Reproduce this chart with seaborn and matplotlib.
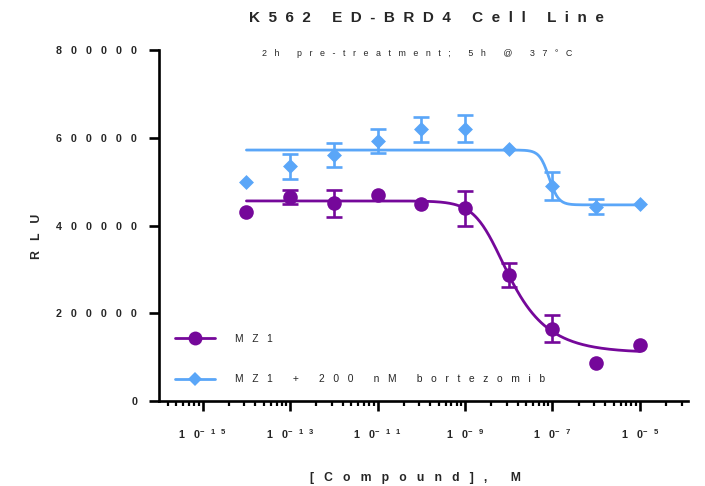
import numpy as np
import pandas as pd
import matplotlib
matplotlib.use("Agg")
import matplotlib.pyplot as plt
import seaborn as sns
from matplotlib.lines import Line2D

# ---------------- data ----------------
log_conc = [-14, -13, -12, -11, -10, -9, -8, -7, -6, -5]
mz1_rlu = [431000, 465000, 451000, 469000, 448000, 439000, 287000, 165000, 86000, 128000]
mz1_sem = [0, 17000, 31000, 0, 0, 40000, 28000, 30000, 0, 0]
bort_rlu = [500000, 535000, 560000, 593000, 619000, 621000, 574000, 490000, 443000, 449000]
bort_sem = [0, 28000, 27000, 27000, 28000, 30000, 0, 32000, 17000, 0]

series_names = ["MZ1", "MZ1 + 200 nM bortezomib"]
series_colors = ["#75089A", "#5AA6F8"]
series_markers = ["o", "D"]

# fitted dose-response parameters (top, bottom, logIC50, hill, asymmetry)
mz1_fit = [456000, 110000, -8.424, 1.5, 0.4]
bort_fit = [572000, 447000, -7.08, 4.0, 1.0]

y_ticks = [0, 200000, 400000, 600000, 800000]
x_tick_exps = [-15, -13, -11, -9, -7, -5]

title = "K562 ED-BRD4 Cell Line"
subtitle = "2h pre-treatment; 5h @ 37\u00b0C"
x_label = "[Compound], M"
y_label = "RLU"

# ---------------- helpers ----------------
def spaced(s, n=3):
    return (" " * n).join(s)

def dose_response(logx, p):
    top, bottom, logic50, hill, s = p
    return bottom + (top - bottom) / (1 + 10 ** ((logx - logic50) * hill)) ** s

# ---------------- style ----------------
sns.set_style("ticks")
plt.rcParams["font.family"] = ["Liberation Sans", "DejaVu Sans"]
plt.rcParams["mathtext.fontset"] = "custom"
plt.rcParams["mathtext.rm"] = "Liberation Sans"
plt.rcParams["mathtext.it"] = "Liberation Sans:italic"
plt.rcParams["mathtext.bf"] = "Liberation Sans:bold"

fig = plt.figure(figsize=(7.05, 4.86), dpi=100)
W, H = 705, 486
ax = fig.add_axes([159 / W, 1 - 401 / H, (688 - 159) / W, (401 - 50) / H])
ax.set_xscale("log")

# ---------------- data frames ----------------
conc = 10.0 ** np.array(log_conc, dtype=float)
pts = pd.DataFrame({
    "conc": np.concatenate([conc, conc]),
    "rlu": mz1_rlu + bort_rlu,
    "sem": mz1_sem + bort_sem,
    "series": [series_names[0]] * len(conc) + [series_names[1]] * len(conc),
})

grid = np.linspace(min(log_conc), max(log_conc), 400)
curves = pd.DataFrame({
    "conc": np.concatenate([10 ** grid, 10 ** grid]),
    "rlu": np.concatenate([dose_response(grid, mz1_fit), dose_response(grid, bort_fit)]),
    "series": [series_names[0]] * len(grid) + [series_names[1]] * len(grid),
})

palette = dict(zip(series_names, series_colors))
marker_map = dict(zip(series_names, series_markers))

sns.lineplot(data=curves, x="conc", y="rlu", hue="series", palette=palette,
             linewidth=2.0, legend=False, ax=ax, zorder=2, estimator=None, sort=True)

for name in series_names:
    d = pts[(pts["series"] == name) & (pts["sem"] > 0)]
    ax.errorbar(d["conc"], d["rlu"], yerr=d["sem"], fmt="none",
                ecolor=palette[name], elinewidth=1.9, capsize=6.0, capthick=1.9, zorder=3)

for name in series_names:
    d = pts[pts["series"] == name]
    sz = 10.5 if marker_map[name] == "o" else 7.6
    sns.scatterplot(data=d, x="conc", y="rlu", color=palette[name], marker=marker_map[name],
                    s=sz ** 2, linewidth=0, legend=False, ax=ax, zorder=4)

# ---------------- axes ----------------
ax.set_xlim(1e-16, 10 ** -3.9)
ax.set_ylim(0, 800000)
major_x = [10.0 ** e for e in x_tick_exps]
minor_x = [10.0 ** e * k ** 2 for e in range(-17, -3, 2) for k in range(2, 10)]
minor_x = [v for v in minor_x if 1e-16 <= v <= 10 ** -3.9]
ax.set_xticks(major_x)
ax.set_xticks(minor_x, minor=True)
xlabels = []
for e in x_tick_exps:
    sup = r"\ \ \ ".join(["-"] + list(str(abs(e))))
    xlabels.append(r"$\mathbf{1\ \ \ 0}^{\mathbf{" + sup + r"}}$")
ax.set_xticklabels(xlabels, fontsize=7.8)
ax.xaxis.set_minor_formatter(matplotlib.ticker.NullFormatter())

ax.set_yticks(y_ticks)
ax.set_yticklabels([spaced(str(v)) for v in y_ticks], fontsize=7.7, fontweight="bold")

for side in ["top", "right"]:
    ax.spines[side].set_visible(False)
for side in ["left", "bottom"]:
    ax.spines[side].set_linewidth(1.9)
    ax.spines[side].set_color("black")
ax.tick_params(axis="both", which="major", length=7.2, width=1.9, color="black", direction="out")
ax.tick_params(axis="x", which="major", pad=12)
ax.tick_params(axis="y", which="major", pad=8.5)
ax.tick_params(axis="x", which="minor", length=3.6, width=1.6, color="black", direction="out")
ax.set_xlabel("")
ax.set_ylabel("")

# ---------------- texts ----------------
fig.text(426 / W, 1 - 18 / H, spaced(title, 2), ha="center", va="center",
         fontsize=11.0, fontweight="bold")
fig.text(417 / W, 1 - 53 / H, spaced(subtitle), ha="center", va="center", fontsize=6.4)
fig.text(37 / W, 1 - 236 / H, spaced(y_label), ha="center", va="center",
         fontsize=8.8, fontweight="bold", rotation=90)
fig.text(415 / W, 1 - 478 / H, spaced(x_label), ha="center", va="center",
         fontsize=8.7, fontweight="bold")

# ---------------- legend ----------------
handles = [Line2D([], [], color=c, marker=m, lw=2.0,
                  markersize=(10.0 if m == "o" else 7.2), markeredgewidth=0)
           for c, m in zip(series_colors, series_markers)]
ax.legend(handles, [spaced(n) for n in series_names], loc="upper left",
          bbox_to_anchor=(175 / W, 1 - 334 / H), bbox_transform=fig.transFigure,
          frameon=False, fontsize=7.4, handlelength=3.9, handletextpad=1.9,
          labelspacing=2.95, borderpad=0, borderaxespad=0)

fig.savefig("out.png", dpi=100)
